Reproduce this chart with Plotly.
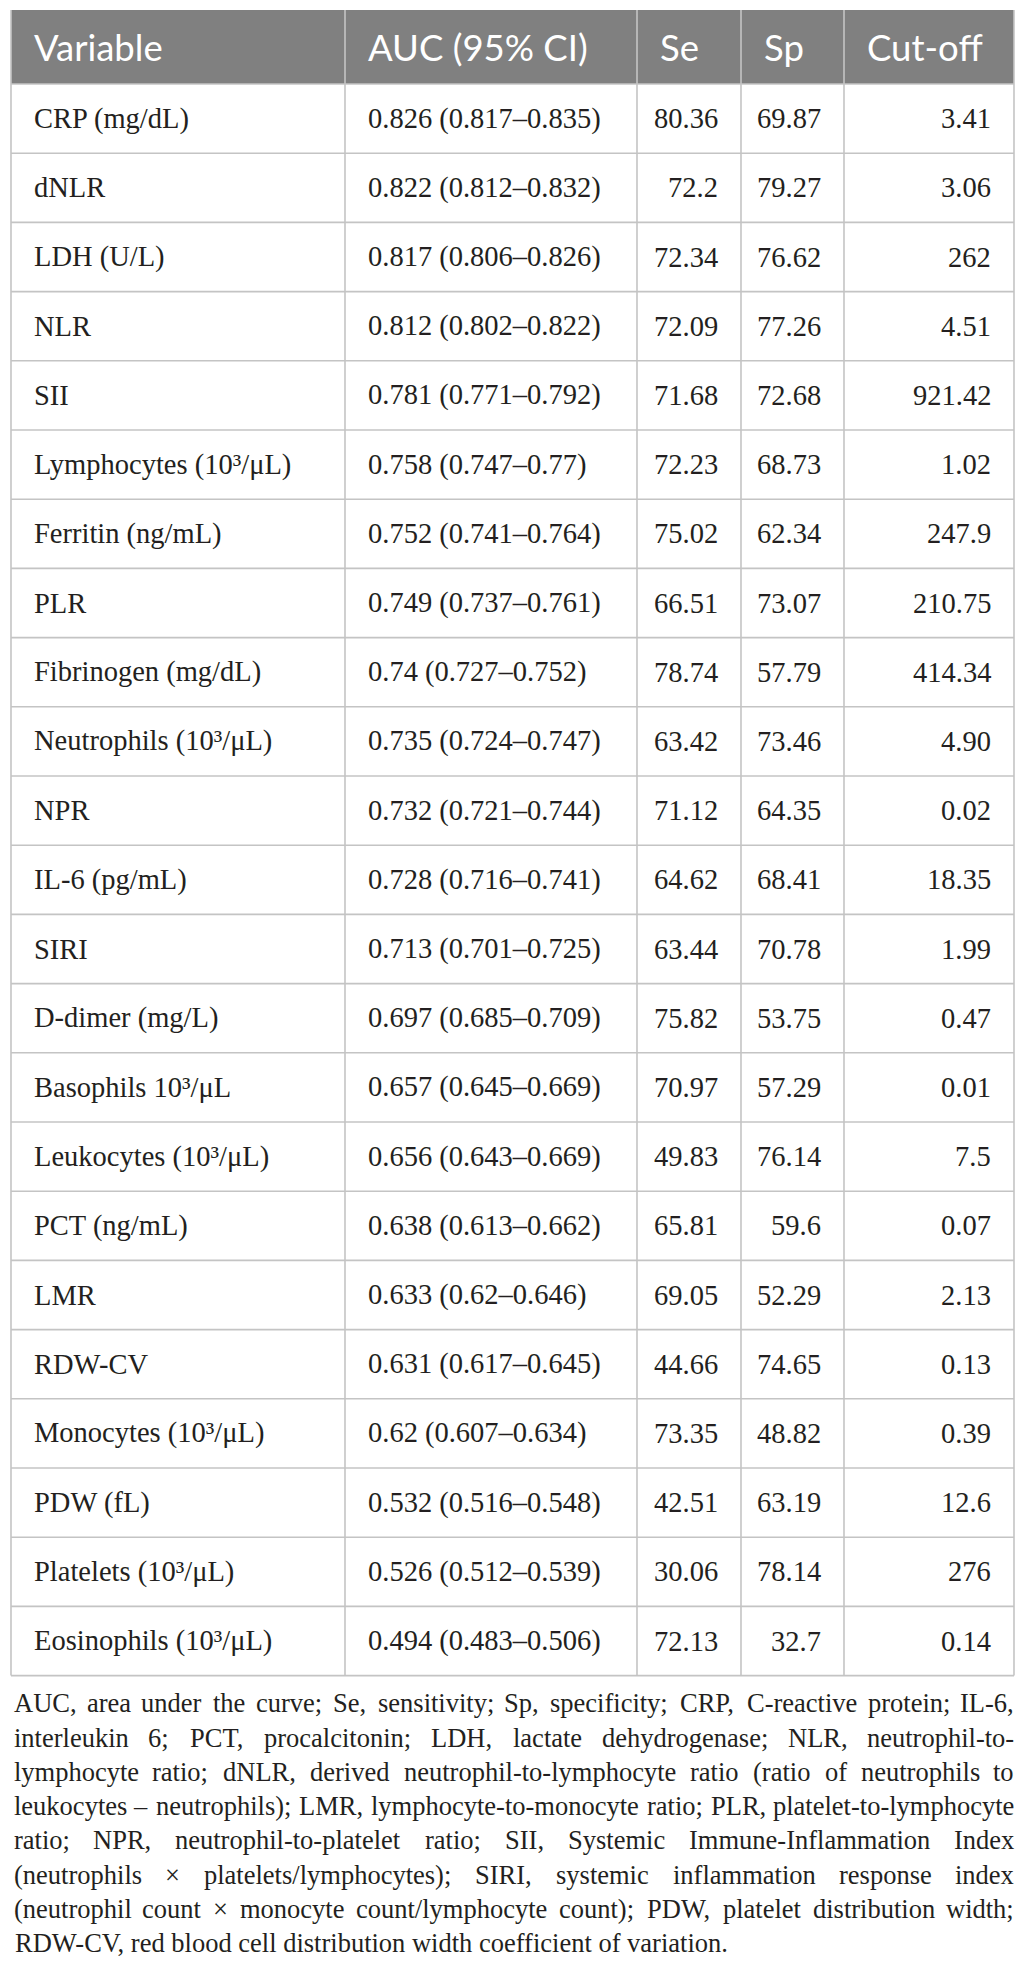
import plotly.graph_objects as go

# ---------------- data ----------------
headers = ["Variable", "AUC (95% CI)", "Se", "Sp", "Cut-off"]

variables = [
    "CRP (mg/dL)", "dNLR", "LDH (U/L)", "NLR", "SII",
    "Lymphocytes (10\u00b3/\u03bcL)", "Ferritin (ng/mL)", "PLR",
    "Fibrinogen (mg/dL)", "Neutrophils (10\u00b3/\u03bcL)", "NPR",
    "IL-6 (pg/mL)", "SIRI", "D-dimer (mg/L)", "Basophils 10\u00b3/\u03bcL",
    "Leukocytes (10\u00b3/\u03bcL)", "PCT (ng/mL)", "LMR", "RDW-CV",
    "Monocytes (10\u00b3/\u03bcL)", "PDW (fL)", "Platelets (10\u00b3/\u03bcL)",
    "Eosinophils (10\u00b3/\u03bcL)",
]
auc = ["0.826", "0.822", "0.817", "0.812", "0.781", "0.758", "0.752", "0.749",
       "0.74", "0.735", "0.732", "0.728", "0.713", "0.697", "0.657", "0.656",
       "0.638", "0.633", "0.631", "0.62", "0.532", "0.526", "0.494"]
ci_low = ["0.817", "0.812", "0.806", "0.802", "0.771", "0.747", "0.741", "0.737",
          "0.727", "0.724", "0.721", "0.716", "0.701", "0.685", "0.645", "0.643",
          "0.613", "0.62", "0.617", "0.607", "0.516", "0.512", "0.483"]
ci_high = ["0.835", "0.832", "0.826", "0.822", "0.792", "0.77", "0.764", "0.761",
           "0.752", "0.747", "0.744", "0.741", "0.725", "0.709", "0.669", "0.669",
           "0.662", "0.646", "0.645", "0.634", "0.548", "0.539", "0.506"]
se = ["80.36", "72.2", "72.34", "72.09", "71.68", "72.23", "75.02", "66.51",
      "78.74", "63.42", "71.12", "64.62", "63.44", "75.82", "70.97", "49.83",
      "65.81", "69.05", "44.66", "73.35", "42.51", "30.06", "72.13"]
sp = ["69.87", "79.27", "76.62", "77.26", "72.68", "68.73", "62.34", "73.07",
      "57.79", "73.46", "64.35", "68.41", "70.78", "53.75", "57.29", "76.14",
      "59.6", "52.29", "74.65", "48.82", "63.19", "78.14", "32.7"]
cutoff = ["3.41", "3.06", "262", "4.51", "921.42", "1.02", "247.9", "210.75",
          "414.34", "4.90", "0.02", "18.35", "1.99", "0.47", "0.01", "7.5",
          "0.07", "2.13", "0.13", "0.39", "12.6", "276", "0.14"]

footnote_lines = [
    "AUC, area under the curve; Se, sensitivity; Sp, specificity; CRP, C-reactive protein; IL-6,",
    "interleukin 6; PCT, procalcitonin; LDH, lactate dehydrogenase; NLR, neutrophil-to-",
    "lymphocyte ratio; dNLR, derived neutrophil-to-lymphocyte ratio (ratio of neutrophils to",
    "leukocytes \u2013 neutrophils); LMR, lymphocyte-to-monocyte ratio; PLR, platelet-to-lymphocyte",
    "ratio; NPR, neutrophil-to-platelet ratio; SII, Systemic Immune-Inflammation Index",
    "(neutrophils \u00d7 platelets/lymphocytes); SIRI, systemic inflammation response index",
    "(neutrophil count \u00d7 monocyte count/lymphocyte count); PDW, platelet distribution width;",
    "RDW-CV, red blood cell distribution width coefficient of variation.",
]

# ---------------- layout / style ----------------
W, H = 1026, 1974
col_edges = [11, 345, 637, 741, 844, 1014]
header_top, header_bottom = 10, 84
row_h = 69.2
pad = 21
header_bg = "#808080"
grid = "#c4c4c4"
text_color = "#231f20"
body_font = dict(family="Liberation Serif", size=28.5, color=text_color)
header_font = dict(family="Lato", size=36.5, color="white")
foot_size = 26.5
foot_font = dict(family="Liberation Serif", size=foot_size, color=text_color)
foot_left, foot_right = 13, 1015
foot_base0, foot_step = 1712, 34.3

n_rows = len(variables)
table_bottom = header_bottom + n_rows * row_h

fig = go.Figure()
shapes = []
annotations = []

# header background
shapes.append(dict(type="rect", xref="x", yref="y", x0=col_edges[0], x1=col_edges[-1],
                   y0=header_top, y1=header_bottom, fillcolor=header_bg, line=dict(width=0),
                   layer="below"))
# horizontal lines
for i in range(n_rows + 1):
    y = header_bottom + i * row_h
    shapes.append(dict(type="line", xref="x", yref="y", x0=col_edges[0], x1=col_edges[-1],
                       y0=y, y1=y, line=dict(color=grid, width=1.6)))
# vertical lines
for x in col_edges:
    shapes.append(dict(type="line", xref="x", yref="y", x0=x, x1=x,
                       y0=header_top, y1=table_bottom, line=dict(color=grid, width=1.6)))

# header text
hy = (header_top + header_bottom) / 2
for j, h in enumerate(headers):
    annotations.append(dict(x=col_edges[j] + pad, y=hy, xref="x", yref="y", text=h,
                            showarrow=False, xanchor="left", yanchor="middle",
                            font=header_font))

# body text
for i in range(n_rows):
    cy = header_bottom + (i + 0.5) * row_h
    cells = [
        (variables[i], "left"),
        (f"{auc[i]} ({ci_low[i]}\u2013{ci_high[i]})", "left"),
        (se[i], "right"),
        (sp[i], "right"),
        (cutoff[i], "right"),
    ]
    for j, (txt, al) in enumerate(cells):
        x = col_edges[j] + pad if al == "left" else col_edges[j + 1] - pad
        annotations.append(dict(x=x, y=cy, xref="x", yref="y", text=txt, showarrow=False,
                                xanchor=al, yanchor="middle", font=body_font))

# footnote: justified lines using Times metrics (Liberation Serif is metric compatible)
tw = {' ': 250, ',': 250, '.': 250, ';': 278, ':': 278, '(': 333, ')': 333, '-': 333,
      '\u2013': 500, '\u00d7': 564, '/': 278}
tw.update({c: 500 for c in "0123456789"})
tw.update(dict(zip("abcdefghijklmnopqrstuvwxyz",
                   [444, 500, 444, 500, 444, 333, 500, 500, 278, 278, 500, 278, 778, 500, 500,
                    500, 500, 333, 389, 278, 500, 500, 722, 500, 500, 444])))
tw.update(dict(zip("ABCDEFGHIJKLMNOPQRSTUVWXYZ",
                   [722, 667, 667, 722, 611, 556, 722, 722, 333, 389, 722, 611, 889, 722, 722,
                    556, 722, 667, 556, 611, 722, 722, 944, 722, 722, 611])))


def wwidth(s):
    return sum(tw.get(c, 500) for c in s) * foot_size / 1000.0


for k, line in enumerate(footnote_lines):
    cy = foot_base0 + k * foot_step - 0.33 * foot_size
    if k == len(footnote_lines) - 1:
        annotations.append(dict(x=foot_left, y=cy, xref="x", yref="y", text=line,
                                showarrow=False, xanchor="left", yanchor="middle",
                                font=foot_font))
        continue
    words = line.split(" ")
    widths = [wwidth(w) for w in words]
    gap = (foot_right - foot_left - sum(widths)) / (len(words) - 1)
    x = foot_left
    for i, (w, wd) in enumerate(zip(words, widths)):
        if i == 0:
            xa, xx = "left", x
        elif i == len(words) - 1:
            xa, xx = "right", foot_right
        else:
            xa, xx = "center", x + wd / 2
        annotations.append(dict(x=xx, y=cy, xref="x", yref="y", text=w, showarrow=False,
                                xanchor=xa, yanchor="middle", font=foot_font, borderpad=0))
        x += wd + gap

fig.update_layout(
    width=W, height=H,
    margin=dict(l=0, r=0, t=0, b=0),
    paper_bgcolor="white", plot_bgcolor="white",
    xaxis=dict(range=[0, W], visible=False, fixedrange=True),
    yaxis=dict(range=[H, 0], visible=False, fixedrange=True),
    shapes=shapes, annotations=annotations, showlegend=False,
)

fig.write_html(
    "out.html",
    config={"displayModeBar": False},
    post_script="document.body.style.margin='0';document.body.style.overflow='hidden';",
)
